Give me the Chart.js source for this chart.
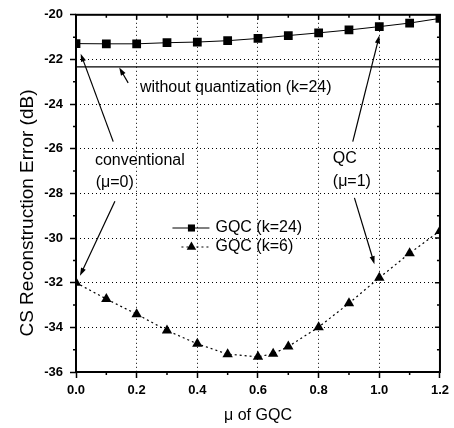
<!DOCTYPE html>
<html><head><meta charset="utf-8">
<script src="https://cdn.jsdelivr.net/npm/chart.js@4"></script>
<style>html,body{margin:0;padding:0;background:#fff}canvas{display:block}</style>
</head><body>
<canvas id="c" width="454" height="428"></canvas>
<script>
// ---- data ----
const muK24 = [0, 0.1, 0.2, 0.3, 0.4, 0.5, 0.6, 0.7, 0.8, 0.9, 1.0, 1.1, 1.2];
const errK24 = [-21.29, -21.30, -21.30, -21.25, -21.22, -21.16, -21.06, -20.93, -20.81, -20.68, -20.53, -20.37, -20.16];
const muK6 = [0, 0.1, 0.2, 0.3, 0.4, 0.5, 0.6, 0.65, 0.7, 0.8, 0.9, 1.0, 1.1, 1.2];
const errK6 = [-32.0, -32.73, -33.41, -34.14, -34.74, -35.2, -35.32, -35.18, -34.86, -33.99, -32.92, -31.78, -30.68, -29.68];
const muNoQ = [0, 1.2];
const errNoQ = [-22.33, -22.33];
const seriesLabels = ['GQC (k=24)', 'GQC (k=6)'];
const xTitle = 'μ of GQC';
const yTitle = 'CS Reconstruction Error (dB)';
// annotation texts: [text, mu, dB]
const noteTexts = [
  ['without quantization (k=24)', 0.2106, -23.28],
  ['conventional', 0.0625, -26.54],
  ['(μ=0)', 0.065, -27.5],
  ['QC', 0.8467, -26.45],
  ['(μ=1)', 0.8467, -27.46]
];
// arrows: [fromMu, fromDb, toMu, toDb]
const noteArrows = [
  [0.172, -23.05, 0.1425, -22.36],
  [0.1227, -25.68, 0.0155, -21.74],
  [0.1283, -28.35, 0.0132, -31.69],
  [0.9125, -25.68, 1.0003, -20.92],
  [0.918, -28.2, 0.984, -31.17]
];
const legendAnchor = [0.318, -29.55];
const yTitleCenterDb = -28.88;

const FONT = '"Liberation Sans", Arial, sans-serif';
Chart.defaults.font.family = FONT;
Chart.defaults.color = '#000';

const toXY = (xs, ys) => xs.map((x, i) => ({x, y: ys[i]}));

function drawMarker(ctx, style, x, y, r) {
  ctx.beginPath();
  if (style === 'rect') {
    const s = Math.SQRT1_2 * r;
    ctx.rect(x - s, y - s, 2 * s, 2 * s);
  } else {
    const a = 2 * Math.PI / 3;
    ctx.moveTo(x, y - r);
    ctx.lineTo(x + Math.sin(a) * r, y - Math.cos(a) * r);
    ctx.lineTo(x + Math.sin(2 * a) * r, y - Math.cos(2 * a) * r);
    ctx.closePath();
  }
  ctx.fill();
}

const framePlugin = {
  id: 'frame',
  afterDatasetsDraw(chart) {
    const {ctx, chartArea: a, scales: {x, y}} = chart;
    ctx.save();
    ctx.strokeStyle = '#000';
    ctx.lineWidth = 2;
    ctx.setLineDash([]);
    ctx.strokeRect(a.left, a.top, a.right - a.left, a.bottom - a.top);
    ctx.lineWidth = 1.5;
    ctx.beginPath();
    for (let v = -35; v <= -21; v += 2) {
      const py = y.getPixelForValue(v);
      ctx.moveTo(a.left - 3, py); ctx.lineTo(a.left, py);
      ctx.moveTo(a.right, py); ctx.lineTo(a.right - 3, py);
    }
    for (let v = -34; v <= -22; v += 2) {
      const py = y.getPixelForValue(v);
      ctx.moveTo(a.right, py); ctx.lineTo(a.right - 5, py);
    }
    for (let i = 1; i < 12; i += 2) {
      const px = x.getPixelForValue(i / 10);
      ctx.moveTo(px, a.bottom); ctx.lineTo(px, a.bottom + 3);
      ctx.moveTo(px, a.top); ctx.lineTo(px, a.top + 3);
    }
    for (let i = 2; i < 12; i += 2) {
      const px = x.getPixelForValue(i / 10);
      ctx.moveTo(px, a.top); ctx.lineTo(px, a.top + 5);
    }
    ctx.stroke();
    // y axis title
    ctx.save();
    ctx.font = '19px ' + FONT;
    ctx.fillStyle = '#000';
    ctx.textAlign = 'center';
    ctx.textBaseline = 'middle';
    ctx.translate(28, y.getPixelForValue(yTitleCenterDb));
    ctx.rotate(-Math.PI / 2);
    ctx.fillText(yTitle, 0, 0);
    ctx.restore();
    ctx.restore();
  }
};

const notesPlugin = {
  id: 'notes',
  afterDatasetsDraw(chart) {
    const {ctx, scales: {x, y}} = chart;
    ctx.save();
    ctx.fillStyle = '#000';
    ctx.strokeStyle = '#000';
    ctx.font = '16px ' + FONT;
    ctx.textAlign = 'left';
    ctx.textBaseline = 'middle';
    noteTexts.forEach(([t, mx, my]) => ctx.fillText(t, x.getPixelForValue(mx), y.getPixelForValue(my)));
    ctx.lineWidth = 1.2;
    noteArrows.forEach(([x0, y0, x1, y1]) => {
      const ax = x.getPixelForValue(x0), ay = y.getPixelForValue(y0);
      const bx = x.getPixelForValue(x1), by = y.getPixelForValue(y1);
      const ang = Math.atan2(by - ay, bx - ax);
      const L = 8, W = 2.6;
      ctx.beginPath();
      ctx.moveTo(ax, ay);
      ctx.lineTo(bx - Math.cos(ang) * L * 0.8, by - Math.sin(ang) * L * 0.8);
      ctx.stroke();
      ctx.beginPath();
      ctx.moveTo(bx, by);
      ctx.lineTo(bx - Math.cos(ang) * L - Math.sin(ang) * W, by - Math.sin(ang) * L + Math.cos(ang) * W);
      ctx.lineTo(bx - Math.cos(ang) * L + Math.sin(ang) * W, by - Math.sin(ang) * L - Math.cos(ang) * W);
      ctx.closePath();
      ctx.fill();
    });
    // legend
    const lx = x.getPixelForValue(legendAnchor[0]);
    const ly = y.getPixelForValue(legendAnchor[1]);
    const rows = [
      {dash: [], style: 'rect', r: 5, x0: lx, x1: lx + 37},
      {dash: [2, 3], style: 'triangle', r: 5.5, x0: lx + 9, x1: lx + 39}
    ];
    rows.forEach((row, i) => {
      const yy = ly + i * 19;
      ctx.lineWidth = 1;
      ctx.setLineDash(row.dash);
      ctx.beginPath();
      ctx.moveTo(row.x0, yy); ctx.lineTo(row.x1, yy);
      ctx.stroke();
      ctx.setLineDash([]);
      drawMarker(ctx, row.style, lx + 19, yy, row.r);
      ctx.fillText(seriesLabels[i], lx + 43, yy);
    });
    ctx.restore();
  }
};

new Chart(document.getElementById('c'), {
  type: 'line',
  data: {
    datasets: [
      {
        label: seriesLabels[0],
        data: toXY(muK24, errK24),
        borderColor: '#000', backgroundColor: '#000', borderWidth: 1,
        pointStyle: 'rect', pointRadius: 6.2, pointBorderWidth: 0,
        tension: 0
      },
      {
        label: seriesLabels[1],
        data: toXY(muK6, errK6),
        borderColor: '#000', backgroundColor: '#000', borderWidth: 1.2,
        borderDash: [2, 3],
        pointStyle: 'triangle', pointRadius: 6, pointBorderWidth: 0,
        tension: 0
      },
      {
        label: 'without quantization (k=24)',
        data: toXY(muNoQ, errNoQ),
        borderColor: '#000', borderWidth: 1.2,
        pointRadius: 0, tension: 0
      }
    ]
  },
  options: {
    responsive: false,
    animation: false,
    devicePixelRatio: 1,
    layout: {padding: {top: 13, right: 13, left: 0, bottom: 0}},
    plugins: {legend: {display: false}, tooltip: {enabled: false}},
    scales: {
      x: {
        type: 'linear', min: 0, max: 1.2,
        ticks: {stepSize: 0.2, callback: v => Number(v).toFixed(1), font: {size: 13, weight: 'bold'}, padding: 5, maxRotation: 0},
        title: {display: true, text: xTitle, font: {size: 16}, padding: {top: 0, bottom: 3}},
        grid: {color: '#000', lineWidth: 1, tickLength: 6, tickColor: '#000', tickWidth: 1.5, tickBorderDash: []},
        border: {display: false, dash: [1, 3]},
        afterFit: s => { s.height = 56; }
      },
      y: {
        type: 'linear', min: -36, max: -20,
        ticks: {stepSize: 2, callback: v => String(v), font: {size: 13, weight: 'bold'}, padding: 7},
        title: {display: false, text: yTitle},
        grid: {color: '#000', lineWidth: 1, tickLength: 6, tickColor: '#000', tickWidth: 1.5, tickBorderDash: []},
        border: {display: false, dash: [1, 3]},
        afterFit: s => { s.width = 76; }
      }
    }
  },
  plugins: [framePlugin, notesPlugin]
});
</script>
</body></html>
